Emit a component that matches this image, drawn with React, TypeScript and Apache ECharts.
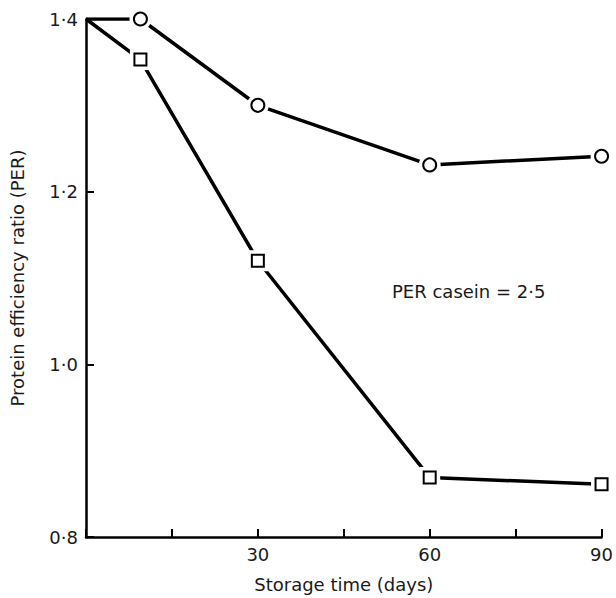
import React, { useEffect, useRef } from "react";
import * as echarts from "echarts";

// Storage time (days)
const circleDays = [0, 9.5, 30, 60, 90];
const circlePER = [1.4, 1.4, 1.3, 1.231, 1.241];

const squareDays = [0, 9.5, 30, 60, 90];
const squarePER = [1.4, 1.353, 1.12, 0.869, 0.861];

const xLabelDays = [30, 60, 90];
const annotation = "PER casein = 2·5";

const FONT = "'DejaVu Sans', sans-serif";
const TEXT = "#1a1a1a";

const pairs = (xs: number[], ys: number[]) => xs.map((x, i) => [x, ys[i]]);

export default function App() {
  const ref = useRef<HTMLDivElement>(null);

  useEffect(() => {
    if (!ref.current) return;
    const chart = echarts.init(ref.current, null, { renderer: "svg" });

    const circles = pairs(circleDays, circlePER);
    const squares = pairs(squareDays, squarePER);

    const lineSeries = (data: number[][]) => ({
      type: "line",
      data,
      symbol: "none",
      lineStyle: { color: "#000", width: 3.5 },
      z: 2,
    });
    // white halo behind each marker so the line stops short of it
    const halo = (data: number[][], symbol: string, size: number) => ({
      type: "scatter",
      data: data.slice(1),
      symbol,
      symbolSize: size,
      itemStyle: { color: "#fff", opacity: 1 },
      z: 3,
      silent: true,
    });
    const marker = (data: number[][], symbol: string, size: number) => ({
      type: "scatter",
      data: data.slice(1),
      symbol,
      symbolSize: size,
      itemStyle: { color: "#fff", borderColor: "#000", borderWidth: 2, opacity: 1 },
      z: 4,
    });

    chart.setOption({
      animation: false,
      backgroundColor: "#fff",
      grid: { left: 84, right: 14, top: 19, bottom: 57 },
      xAxis: {
        type: "value",
        min: 0,
        max: 90,
        interval: 15,
        name: "Storage time (days)",
        nameLocation: "middle",
        nameGap: 38,
        nameTextStyle: { color: TEXT, fontSize: 18, fontFamily: FONT },
        axisLine: { lineStyle: { color: "#000", width: 2.5 } },
        axisTick: { inside: true, length: 8, lineStyle: { color: "#000", width: 2 } },
        axisLabel: {
          color: TEXT,
          fontSize: 18,
          fontFamily: FONT,
          margin: 8,
          formatter: (v: number) => (xLabelDays.includes(v) ? String(v) : ""),
        },
        splitLine: { show: false },
      },
      yAxis: {
        type: "value",
        min: 0.8,
        max: 1.4,
        interval: 0.2,
        name: "Protein efficiency ratio (PER)",
        nameLocation: "middle",
        nameGap: 60,
        nameTextStyle: { color: TEXT, fontSize: 18, fontFamily: FONT },
        axisLine: { show: true, lineStyle: { color: "#000", width: 2.5 } },
        axisTick: { inside: true, length: 8, lineStyle: { color: "#000", width: 2 } },
        axisLabel: {
          color: TEXT,
          fontSize: 18,
          fontFamily: FONT,
          margin: 8,
          formatter: (v: number) => v.toFixed(1).replace(".", "·"),
        },
        splitLine: { show: false },
      },
      graphic: [
        {
          type: "text",
          left: 392,
          top: 282,
          style: { text: annotation, fontSize: 18, fontFamily: FONT, fill: TEXT },
        },
      ],
      series: [
        lineSeries(circles),
        lineSeries(squares),
        halo(circles, "circle", 22),
        halo(squares, "rect", 21),
        marker(circles, "circle", 13),
        marker(squares, "rect", 12),
      ],
    });

    return () => chart.dispose();
  }, []);

  return <div ref={ref} style={{ width: 616, height: 598, position: "absolute", left: 0, top: 0 }} />;
}
